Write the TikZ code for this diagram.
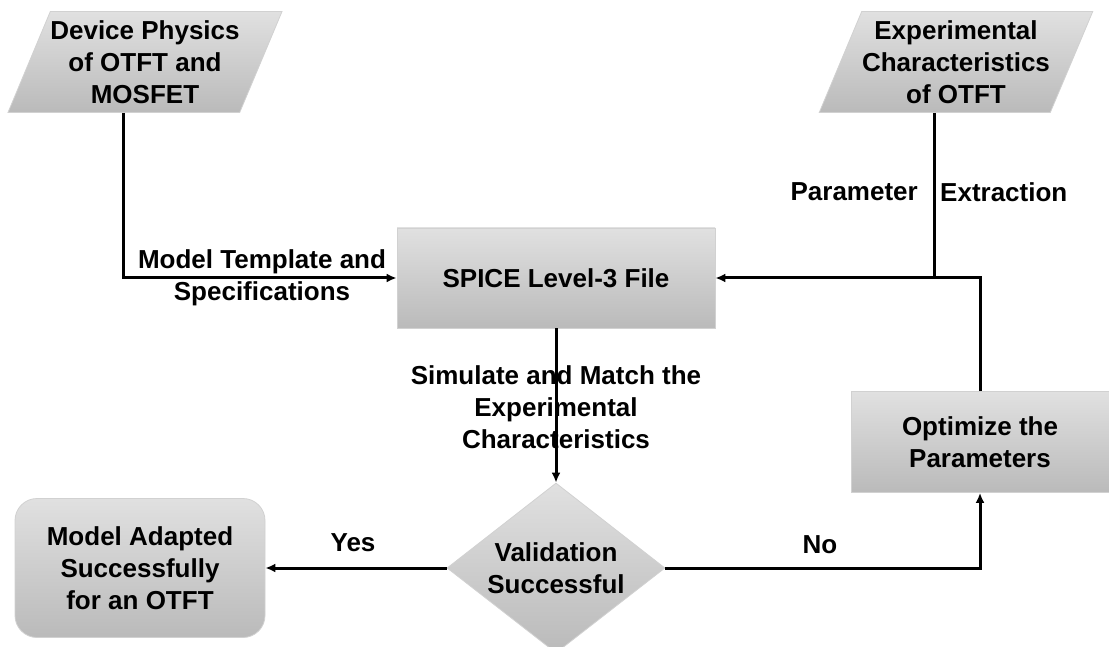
\documentclass[tikz,border=0pt]{standalone}
\usepackage{fontspec}
\setmainfont{Liberation Sans}
\usetikzlibrary{arrows.meta, shapes.geometric}

\begin{document}
\begin{tikzpicture}[x=1pt, y=-1pt,
  font=\bfseries\fontsize{26}{32}\selectfont,
  box/.style={draw=black!18, line width=0.8pt, top color=black!12, bottom color=black!27, align=center},
  ioshape/.style={box, trapezium, trapezium left angle=63, trapezium right angle=117,
    trapezium stretches=true, minimum width=274pt, minimum height=101pt, inner sep=0pt},
  flow/.style={line width=3pt, -{Latex[length=10pt, width=9pt]}},
  wire/.style={line width=3pt},
  lbl/.style={align=center, inner sep=0pt}]
\useasboundingbox (0,0) rectangle (1109,647);
\clip (0,0) rectangle (1109,647);
% blocks
\node[ioshape] (physics) at (145,62) {Device Physics\\of OTFT and\\MOSFET};
\node[ioshape] (expt) at (956,62) {Experimental\\Characteristics\\of OTFT};
\node[box, minimum width=318pt, minimum height=100pt] (spice) at (556,278) {SPICE Level-3 File};
\node[box, minimum width=258pt, minimum height=101pt] (optim) at (980,442) {Optimize the\\Parameters};
\node[box, rounded corners=22pt, minimum width=250pt, minimum height=139pt] (adapted) at (140,568) {Model Adapted\\Successfully\\for an OTFT};
\node[box, diamond, aspect=1.28, minimum width=218pt, minimum height=170pt, inner sep=0pt] (valid) at (556,568) {Validation\\Successful};
% connectors
\coordinate (join) at (expt.bottom side |- spice.east);
\draw[flow] (physics.bottom side) |- (spice.west);
\draw[wire] (expt.bottom side) -- (join);
\draw[flow] (optim.north) |- (spice.east);
\draw[flow] (spice.south) -- (valid.north);
\draw[flow] (valid.west) -- (adapted.east);
\draw[flow] (valid.east) -| (optim.south);
% labels
\node[lbl] (tmpl) at (262,278) {Model Template and\\Specifications};
\node[lbl, anchor=east] (param) at (918,192) {Parameter};
\node[lbl, anchor=west] (extr) at (940,192) {Extraction};
\node[lbl] (sim) at (556,407) {Simulate and Match the\\Experimental\\Characteristics};
\node[lbl] (yes) at (353,543) {Yes};
\node[lbl] (no) at (820,545) {No};
\end{tikzpicture}
\end{document}
